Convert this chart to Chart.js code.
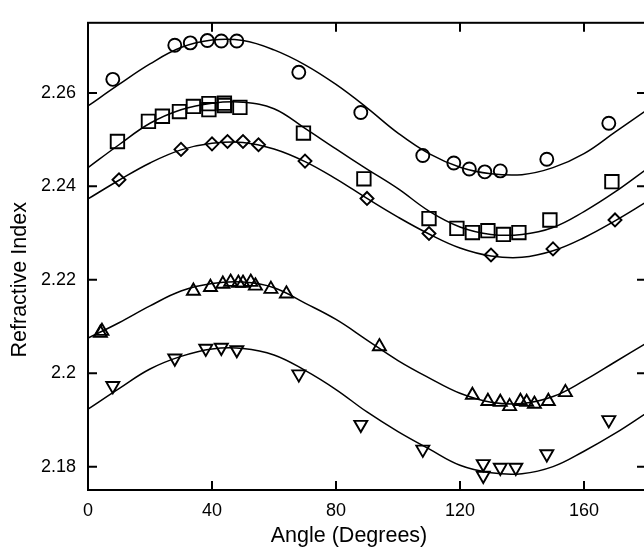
<!DOCTYPE html>
<html><head><meta charset="utf-8">
<script src="https://cdn.jsdelivr.net/npm/chart.js@4/dist/chart.umd.min.js"></script>
<style>
html,body{margin:0;padding:0;overflow:hidden;background:#fff;width:644px;height:548px}
#wrap{position:absolute;left:0;top:0;width:660px;height:548px}
</style>
</head><body><div id="wrap"><canvas id="c" width="660" height="548"></canvas></div>
<script>
// ---- data ----
const xTickValues = [0, 40, 80, 120, 160];
const yTickValues = [2.18, 2.2, 2.22, 2.24, 2.26];
const yTickLabels = ['2.18', '2.2', '2.22', '2.24', '2.26'];
const xTitle = 'Angle (Degrees)';
const yTitle = 'Refractive Index';

const fitAngles = [0,10,20,30,40,50,60,70,80,90,100,110,120,130,140,150,160,170,180];
const circleFit  = [2.2572,2.2618,2.2662,2.2697,2.2713,2.2712,2.2692,2.2660,2.2618,2.2568,2.2514,2.2470,2.2441,2.2427,2.2425,2.2440,2.2470,2.2516,2.2562];
const squareFit  = [2.2440,2.2489,2.2535,2.2564,2.2578,2.2580,2.2566,2.2524,2.2480,2.2437,2.2395,2.2347,2.2313,2.2297,2.2297,2.2312,2.2346,2.2388,2.2436];
const diamondFit = [2.2373,2.2413,2.2450,2.2478,2.2492,2.2494,2.2480,2.2453,2.2416,2.2374,2.2334,2.2298,2.2268,2.2251,2.2248,2.2262,2.2290,2.2326,2.2366];
const upFit      = [2.2075,2.2108,2.2144,2.2176,2.2192,2.2195,2.2183,2.2150,2.2115,2.2071,2.2027,2.1990,2.1957,2.1938,2.1935,2.1950,2.1984,2.2024,2.2064];
const downFit    = [2.1923,2.1967,2.2009,2.2036,2.2052,2.2053,2.2039,2.2006,2.1965,2.1917,2.1875,2.1838,2.1803,2.1787,2.1785,2.1800,2.1833,2.1871,2.1914];

const circleAngles = [8,28,33,38.5,43,48,68,88,108,118,123,128,133,148,168];
const circleValues = [2.2629,2.2702,2.2707,2.2712,2.2711,2.2711,2.2644,2.2558,2.2466,2.2450,2.2437,2.2431,2.2433,2.2458,2.2535];

const squareAngles = [9.5,19.5,24,29.5,34,39,39,44,44,49,69.5,89,110,119,124,129,134,139,149,169];
const squareValues = [2.2496,2.2539,2.2550,2.2560,2.2571,2.2577,2.2564,2.2578,2.2573,2.2569,2.2514,2.2416,2.2331,2.2310,2.2301,2.2305,2.2297,2.2301,2.2328,2.2410];

const diamondAngles = [10,30,40,45,50,55,70,90,110,130,150,170];
const diamondValues = [2.2414,2.2479,2.2491,2.2496,2.2496,2.2489,2.2454,2.2374,2.2299,2.2253,2.2266,2.2328];

const upAngles = [4,4.5,34,39.5,43.5,46,48.5,50,52.5,54,59,64,94,124,129,133,136,139.5,141.5,144,148.5,154];
const upValues = [2.2086,2.2090,2.2176,2.2184,2.2191,2.2195,2.2193,2.2193,2.2195,2.2187,2.2180,2.2170,2.2057,2.1953,2.1940,2.1938,2.1929,2.1940,2.1938,2.1934,2.1940,2.1959];

const downAngles = [8,28,38,43,48,68,88,108,127.5,127.5,133,138,148,168];
const downValues = [2.1973,2.2032,2.2053,2.2055,2.2050,2.1998,2.1890,2.1837,2.1806,2.1781,2.1798,2.1798,2.1827,2.1900];

// ---- build chart ----
const pts = (xs, ys) => xs.map((x, i) => ({x: x, y: ys[i]}));
const FONT = '"Liberation Sans", Arial, sans-serif';

function fitSet(vals) {
  return {data: pts(fitAngles, vals), showLine: true, borderColor: '#000', borderWidth: 1.5,
          pointRadius: 0, tension: 0.4, fill: false, order: 2};
}
function markSet(xs, ys, style, r, rot) {
  return {data: pts(xs, ys), showLine: false, pointStyle: style, pointRadius: r,
          pointRotation: rot || 0, pointBorderColor: '#000', pointBackgroundColor: 'rgba(0,0,0,0)',
          pointBorderWidth: 1.9, borderColor: '#000', order: 1};
}

const framePlugin = {
  id: 'frame',
  afterDraw(chart) {
    const {ctx, chartArea: a, scales: {x, y}} = chart;
    ctx.save();
    ctx.strokeStyle = '#000';
    ctx.lineWidth = 2;
    ctx.strokeRect(a.left, a.top, a.right - a.left, a.bottom - a.top);
    const L = 9;
    ctx.beginPath();
    x.ticks.forEach(t => {
      const px = x.getPixelForValue(t.value);
      ctx.moveTo(px, a.bottom); ctx.lineTo(px, a.bottom - L);
      ctx.moveTo(px, a.top); ctx.lineTo(px, a.top + L);
    });
    y.ticks.forEach(t => {
      const py = y.getPixelForValue(t.value);
      ctx.moveTo(a.left, py); ctx.lineTo(a.left + L, py);
      ctx.moveTo(a.right, py); ctx.lineTo(a.right - L, py);
    });
    ctx.stroke();
    ctx.fillStyle = '#000';
    ctx.font = '21.5px ' + FONT;
    ctx.textAlign = 'center';
    ctx.textBaseline = 'middle';
    ctx.fillText(xTitle, a.left + 261, a.bottom + 46);
    ctx.translate(20, a.top + 257);
    ctx.rotate(-Math.PI / 2);
    ctx.fillText(yTitle, 0, 0);
    ctx.restore();
  }
};

new Chart(document.getElementById('c'), {
  type: 'scatter',
  data: {
    datasets: [
      fitSet(circleFit), fitSet(squareFit), fitSet(diamondFit), fitSet(upFit), fitSet(downFit),
      markSet(circleAngles, circleValues, 'circle', 6.5),
      markSet(squareAngles, squareValues, 'rect', 9.5),
      markSet(diamondAngles, diamondValues, 'rectRot', 6.5),
      markSet(upAngles, upValues, 'triangle', 7.5),
      markSet(downAngles, downValues, 'triangle', 7.5, 180)
    ]
  },
  options: {
    responsive: false,
    animation: false,
    layout: {padding: {left: 0, right: 14, top: 11, bottom: 0}},
    plugins: {legend: {display: false}, tooltip: {enabled: false}},
    scales: {
      x: {
        type: 'linear', min: 0, max: 180,
        afterBuildTicks: s => { s.ticks = xTickValues.map(v => ({value: v})); },
        afterFit: s => { s.height = 58; },
        grid: {display: false, drawTicks: false},
        border: {display: false},
        ticks: {padding: 10, color: '#000', maxRotation: 0, autoSkip: false,
                font: {size: 18, family: FONT}, callback: v => String(v)}
      },
      y: {
        type: 'linear', min: 2.175, max: 2.275,
        afterBuildTicks: s => { s.ticks = yTickValues.map(v => ({value: v})); },
        afterFit: s => { s.width = 88; },
        grid: {display: false, drawTicks: false},
        border: {display: false},
        ticks: {padding: 12, color: '#000', autoSkip: false,
                font: {size: 18, family: FONT}, callback: (v, i) => yTickLabels[i]}
      }
    }
  },
  plugins: [framePlugin]
});
</script>
</body></html>
